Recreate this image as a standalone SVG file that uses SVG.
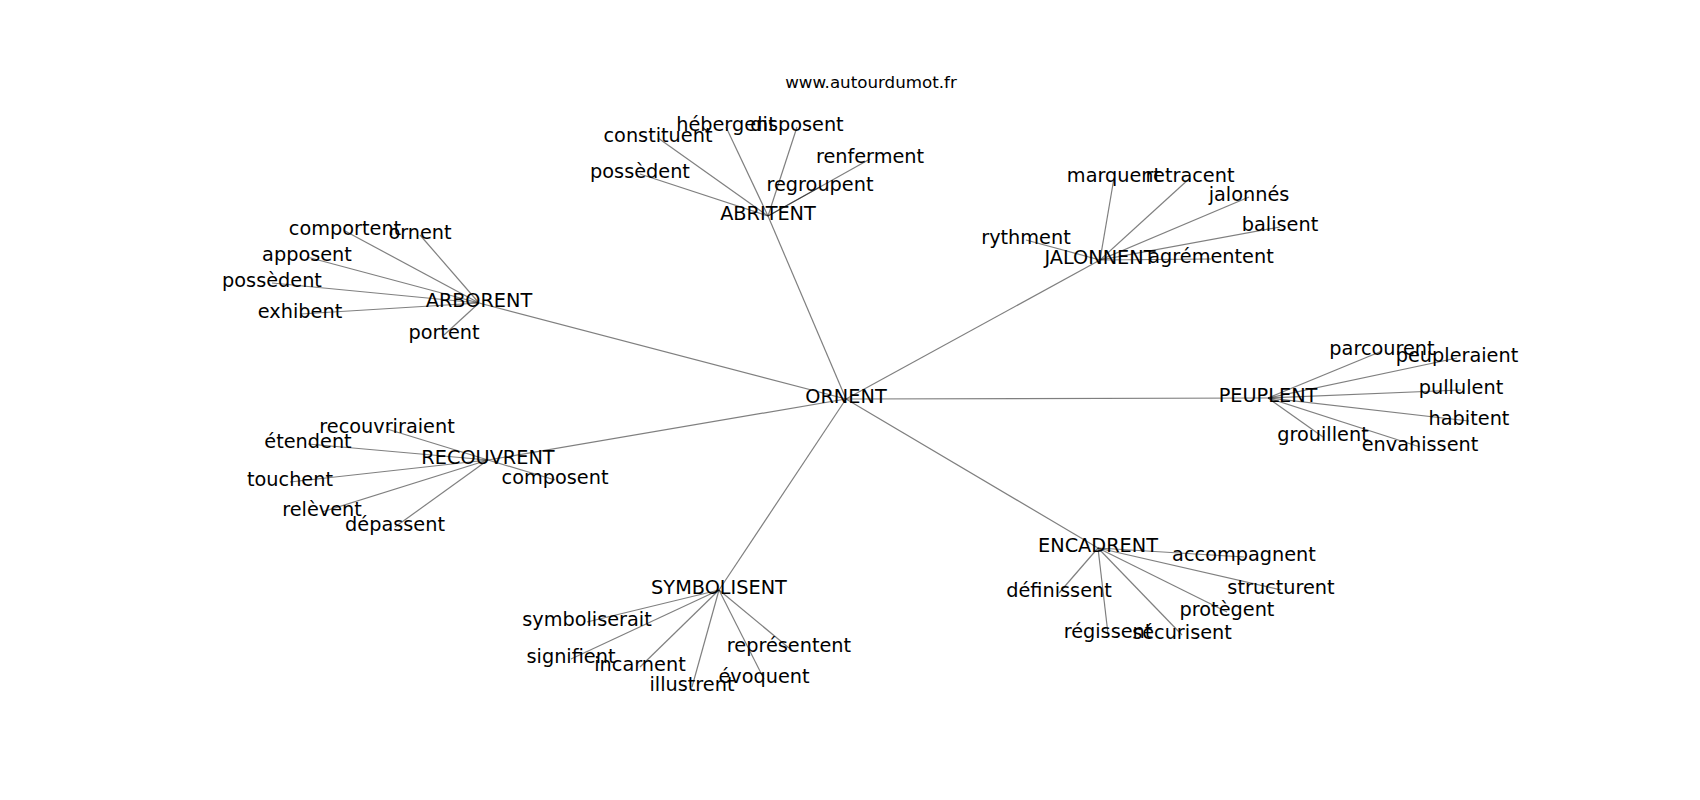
<svg xmlns="http://www.w3.org/2000/svg" width="1700" height="800" viewBox="0 0 1700 800">
<style>
text{font-family:"DejaVu Sans","Liberation Sans",sans-serif;font-size:19.3px;fill:#000;text-anchor:middle}
.title{font-size:16.7px}
#edges line{stroke:#000;stroke-opacity:0.5;stroke-width:1.2}
</style>
<rect width="1700" height="800" fill="#fff"/>
<text class="title" x="871" y="88">www.autourdumot.fr</text>
<g id="edges">
<line x1="846" y1="399" x2="768" y2="216"/>
<line x1="846" y1="399" x2="479" y2="303"/>
<line x1="846" y1="399" x2="1100" y2="260"/>
<line x1="846" y1="399" x2="1268" y2="398"/>
<line x1="846" y1="399" x2="488" y2="460"/>
<line x1="846" y1="399" x2="719" y2="590"/>
<line x1="846" y1="399" x2="1098" y2="548"/>
<line x1="768" y1="216" x2="658" y2="138"/>
<line x1="768" y1="216" x2="726" y2="127"/>
<line x1="768" y1="216" x2="797" y2="127"/>
<line x1="768" y1="216" x2="870" y2="159"/>
<line x1="768" y1="216" x2="820" y2="187"/>
<line x1="768" y1="216" x2="640" y2="174"/>
<line x1="479" y1="303" x2="345" y2="231"/>
<line x1="479" y1="303" x2="420" y2="235"/>
<line x1="479" y1="303" x2="307" y2="257"/>
<line x1="479" y1="303" x2="272" y2="283"/>
<line x1="479" y1="303" x2="300" y2="314"/>
<line x1="479" y1="303" x2="444" y2="335"/>
<line x1="1100" y1="260" x2="1114" y2="178"/>
<line x1="1100" y1="260" x2="1190" y2="178"/>
<line x1="1100" y1="260" x2="1249" y2="197"/>
<line x1="1100" y1="260" x2="1280" y2="227"/>
<line x1="1100" y1="260" x2="1026" y2="240"/>
<line x1="1100" y1="260" x2="1211" y2="259"/>
<line x1="1268" y1="398" x2="1382" y2="351"/>
<line x1="1268" y1="398" x2="1457" y2="358"/>
<line x1="1268" y1="398" x2="1461" y2="390"/>
<line x1="1268" y1="398" x2="1469" y2="421"/>
<line x1="1268" y1="398" x2="1323" y2="437"/>
<line x1="1268" y1="398" x2="1420" y2="447"/>
<line x1="488" y1="460" x2="387" y2="429"/>
<line x1="488" y1="460" x2="308" y2="444"/>
<line x1="488" y1="460" x2="290" y2="482"/>
<line x1="488" y1="460" x2="322" y2="512"/>
<line x1="488" y1="460" x2="395" y2="527"/>
<line x1="488" y1="460" x2="555" y2="480"/>
<line x1="719" y1="590" x2="587" y2="622"/>
<line x1="719" y1="590" x2="571" y2="659"/>
<line x1="719" y1="590" x2="640" y2="667"/>
<line x1="719" y1="590" x2="692" y2="687"/>
<line x1="719" y1="590" x2="764" y2="679"/>
<line x1="719" y1="590" x2="789" y2="648"/>
<line x1="1098" y1="548" x2="1244" y2="557"/>
<line x1="1098" y1="548" x2="1281" y2="590"/>
<line x1="1098" y1="548" x2="1227" y2="612"/>
<line x1="1098" y1="548" x2="1182" y2="635"/>
<line x1="1098" y1="548" x2="1108" y2="634"/>
<line x1="1098" y1="548" x2="1059" y2="593"/>
</g>
<g id="n-ornent"><text x="846" y="403">ORNENT</text></g>
<g id="n-abritent"><text x="768" y="220">ABRITENT</text></g>
<g id="n-arborent"><text x="479" y="307">ARBORENT</text></g>
<g id="n-jalonnent"><text x="1100" y="264">JALONNENT</text></g>
<g id="n-peuplent"><text x="1268" y="402">PEUPLENT</text></g>
<g id="n-recouvrent"><text x="488" y="464">RECOUVRENT</text></g>
<g id="n-symbolisent"><text x="719" y="594">SYMBOLISENT</text></g>
<g id="n-encadrent"><text x="1098" y="552">ENCADRENT</text></g>
<g id="n-constituent"><text x="658" y="142">constituent</text></g>
<g id="n-hebergent"><text x="726" y="131">hébergent</text></g>
<g id="n-disposent"><text x="797" y="131">disposent</text></g>
<g id="n-renferment"><text x="870" y="163">renferment</text></g>
<g id="n-regroupent"><text x="820" y="191">regroupent</text></g>
<g id="n-possedent1"><text x="640" y="178">possèdent</text></g>
<g id="n-comportent"><text x="345" y="235">comportent</text></g>
<g id="n-ornent2"><text x="420" y="239">ornent</text></g>
<g id="n-apposent"><text x="307" y="261">apposent</text></g>
<g id="n-possedent2"><text x="272" y="287">possèdent</text></g>
<g id="n-exhibent"><text x="300" y="318">exhibent</text></g>
<g id="n-portent"><text x="444" y="339">portent</text></g>
<g id="n-marquent"><text x="1114" y="182">marquent</text></g>
<g id="n-retracent"><text x="1190" y="182">retracent</text></g>
<g id="n-jalonnes"><text x="1249" y="201">jalonnés</text></g>
<g id="n-balisent"><text x="1280" y="231">balisent</text></g>
<g id="n-rythment"><text x="1026" y="244">rythment</text></g>
<g id="n-agrementent"><text x="1211" y="263">agrémentent</text></g>
<g id="n-parcourent"><text x="1382" y="355">parcourent</text></g>
<g id="n-peupleraient"><text x="1457" y="362">peupleraient</text></g>
<g id="n-pullulent"><text x="1461" y="394">pullulent</text></g>
<g id="n-habitent"><text x="1469" y="425">habitent</text></g>
<g id="n-grouillent"><text x="1323" y="441">grouillent</text></g>
<g id="n-envahissent"><text x="1420" y="451">envahissent</text></g>
<g id="n-recouvriraient"><text x="387" y="433">recouvriraient</text></g>
<g id="n-etendent"><text x="308" y="448">étendent</text></g>
<g id="n-touchent"><text x="290" y="486">touchent</text></g>
<g id="n-relevent"><text x="322" y="516">relèvent</text></g>
<g id="n-depassent"><text x="395" y="531">dépassent</text></g>
<g id="n-composent"><text x="555" y="484">composent</text></g>
<g id="n-symboliserait"><text x="587" y="626">symboliserait</text></g>
<g id="n-signifient"><text x="571" y="663">signifient</text></g>
<g id="n-incarnent"><text x="640" y="671">incarnent</text></g>
<g id="n-illustrent"><text x="692" y="691">illustrent</text></g>
<g id="n-evoquent"><text x="764" y="683">évoquent</text></g>
<g id="n-representent"><text x="789" y="652">représentent</text></g>
<g id="n-accompagnent"><text x="1244" y="561">accompagnent</text></g>
<g id="n-structurent"><text x="1281" y="594">structurent</text></g>
<g id="n-protegent"><text x="1227" y="616">protègent</text></g>
<g id="n-securisent"><text x="1182" y="639">sécurisent</text></g>
<g id="n-regissent"><text x="1108" y="638">régissent</text></g>
<g id="n-definissent"><text x="1059" y="597">définissent</text></g>
</svg>
